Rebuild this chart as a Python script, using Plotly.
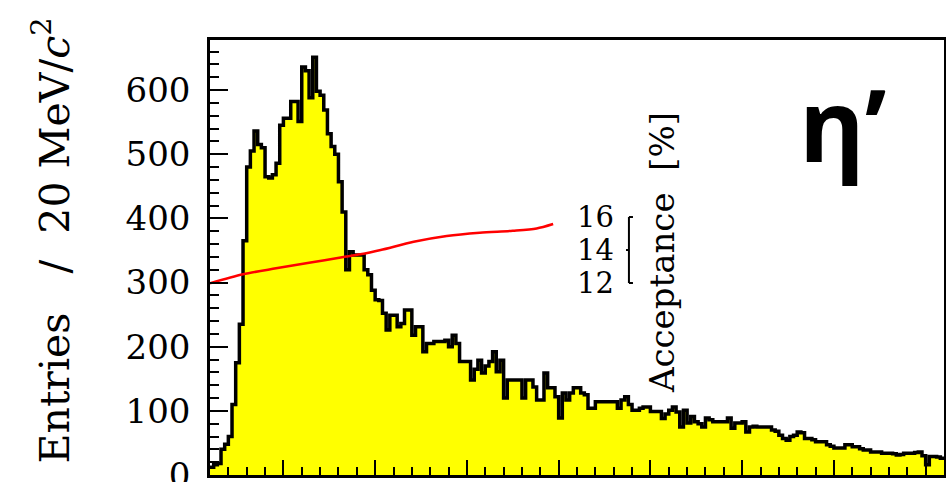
import numpy as np
import plotly.graph_objects as go

# Invariant-mass spectrum, 20 MeV/c^2 bins from 1.10 GeV/c^2
mass_low = 1.10
bin_width = 0.02
entries = [
    12, 16, 18, 40, 48, 60, 110, 175, 235, 365,
    480, 505, 536, 515, 510, 465, 463, 468, 486, 545,
    556, 556, 582, 582, 551, 636, 630, 588, 651, 598,
    592, 569, 532, 512, 500, 457, 410, 320, 348, 343,
    343, 343, 320, 312, 288, 273, 272, 252, 226, 249,
    249, 231, 236, 257, 257, 218, 231, 231, 192, 205,
    205, 208, 208, 208, 210, 200, 218, 205, 177, 177,
    177, 148, 165, 179, 159, 170, 177, 192, 161, 179,
    120, 148, 148, 148, 148, 120, 148, 148, 137, 117,
    117, 159, 136, 136, 122, 89, 128, 117, 128, 136,
    136, 128, 125, 104, 104, 114, 114, 114, 114, 114,
    114, 104, 117, 122, 110, 101, 101, 104, 106, 106,
    99, 99, 99, 88, 95, 101, 106, 98, 75, 101,
    81, 91, 83, 80, 75, 89, 86, 83, 83, 83,
    83, 89, 73, 81, 81, 83, 67, 75, 76, 75,
    75, 75, 75, 70, 68, 62, 57, 54, 60, 62,
    67, 66, 57, 57, 55, 52, 52, 52, 47, 45,
    42, 42, 42, 47, 47, 44, 44, 41, 39, 39,
    36, 36, 36, 34, 34, 34, 33, 31, 32, 34,
    34, 34, 35, 36, 30, 16, 29, 29, 28, 26,
]

# Acceptance (percent) versus mass
acc_mass = [1.10, 1.28, 1.46, 1.64, 1.82, 1.92, 2.03, 2.21, 2.39, 2.57, 2.75, 2.88, 2.97]
acc_percent = [11.98, 12.53, 12.89, 13.23, 13.56, 13.74, 14.0, 14.5, 14.85, 15.05, 15.17, 15.31, 15.58]
acc_ticks = [12, 14, 16]
acc_tick_labels = ["12", "14", "16"]

y_ticks = [0, 100, 200, 300, 400, 500, 600]
y_tick_labels = ["0", "100", "200", "300", "400", "500", "600"]

edges = mass_low + bin_width * np.arange(len(entries) + 1)
x_step = list(edges)
y_step = entries + [entries[-1]]

serif = "DejaVu Serif"

fig = go.Figure()
fig.add_trace(go.Scatter(
    x=x_step, y=y_step, mode="lines",
    line=dict(shape="hv", color="black", width=3.5),
    fill="tozeroy", fillcolor="#ffff00",
    hoverinfo="skip", showlegend=False,
))
fig.add_trace(go.Scatter(
    x=acc_mass, y=acc_percent, yaxis="y2", mode="lines",
    line=dict(shape="spline", smoothing=0.8, color="#ff0000", width=2.5),
    hoverinfo="skip", showlegend=False,
))

# small acceptance scale drawn inside the frame
acc_axis_x = 3.383
tick_r = 0.022
tick_l = 0.016
shapes = [dict(type="line", xref="x", yref="y2", x0=acc_axis_x, x1=acc_axis_x,
               y0=acc_ticks[0], y1=acc_ticks[-1], line=dict(color="black", width=2))]
for v in acc_ticks:
    if v == acc_ticks[1]:
        x0, x1 = acc_axis_x - tick_l, acc_axis_x
    else:
        x0, x1 = acc_axis_x, acc_axis_x + tick_r
    shapes.append(dict(type="line", xref="x", yref="y2", x0=x0, x1=x1, y0=v, y1=v,
                       line=dict(color="black", width=2)))

annotations = []
for v, t in zip(acc_ticks, acc_tick_labels):
    annotations.append(dict(x=3.315, y=v, xref="x", yref="y2", text=t, showarrow=False,
                            xanchor="right", yanchor="middle",
                            font=dict(family=serif, size=29, color="black")))

annotations.append(dict(
    x=0.6158, y=0.5126, xref="paper", yref="paper",
    text="Acceptance\u00a0\u00a0[%]", textangle=-90, showarrow=False,
    xanchor="center", yanchor="middle",
    font=dict(family=serif, size=34, color="black"),
))
annotations.append(dict(
    x=-0.216, y=1.0575, xref="paper", yref="paper",
    text="Entries\u00a0\u00a0\u00a0/\u00a0\u00a020\u00a0MeV/<i>c</i><sup>2</sup>", textangle=-90,
    showarrow=False, xanchor="center", yanchor="top",
    font=dict(family=serif, size=41, color="black"),
))
annotations.append(dict(
    x=0.80, y=0.97, xref="paper", yref="paper",
    text="<b>η’</b>", showarrow=False, xanchor="left", yanchor="top",
    font=dict(family="Open Sans", size=100, color="black"),
))

fig.update_layout(
    width=946, height=482,
    margin=dict(l=210, r=2, t=40, b=7),
    paper_bgcolor="white", plot_bgcolor="white",
    showlegend=False,
    shapes=shapes, annotations=annotations,
    xaxis=dict(
        range=[1.10, 5.10], showgrid=False, zeroline=False,
        showline=True, mirror=True, linecolor="black", linewidth=2.5,
        ticks="inside", ticklen=15, tickwidth=2, tickcolor="black",
        tick0=0, dtick=0.5, showticklabels=False,
        minor=dict(ticks="inside", ticklen=8, tickwidth=2, tickcolor="black",
                   tick0=0, dtick=0.1, showgrid=False),
    ),
    yaxis=dict(
        range=[0, 678], showgrid=False, zeroline=False, automargin=False,
        showline=True, mirror=True, linecolor="black", linewidth=2.5,
        ticks="inside", ticklen=18, tickwidth=2, tickcolor="black",
        tickmode="array", tickvals=y_ticks, ticktext=y_tick_labels,
        tickfont=dict(family=serif, size=34, color="black"),
        ticklabelstandoff=10, ticklabeloverflow="allow",
        minor=dict(ticks="inside", ticklen=9, tickwidth=2, tickcolor="black",
                   tick0=0, dtick=20, showgrid=False),
    ),
    yaxis2=dict(range=[0.364, 26.73], overlaying="y", visible=False),
)

fig.write_html("out.html")
